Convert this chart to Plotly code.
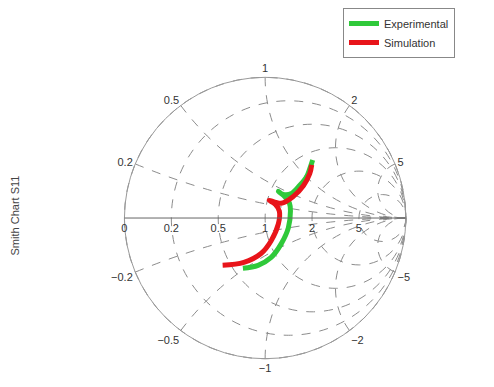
import numpy as np
import plotly.graph_objects as go

exp_re = [-0.158, -0.050, 0.043, 0.115, 0.165, 0.180, 0.173, 0.137, 0.094, 0.129, 0.187, 0.245, 0.295, 0.317, 0.338]
exp_im = [-0.357, -0.336, -0.280, -0.182, -0.070, 0.049, 0.105, 0.154, 0.189, 0.168, 0.175, 0.231, 0.294, 0.350, 0.413]

sim_re = [-0.302, -0.151, -0.029, 0.043, 0.094, 0.101, 0.072, 0.029, 0.115, 0.201, 0.273, 0.317, 0.331]
sim_im = [-0.336, -0.315, -0.252, -0.161, -0.042, 0.049, 0.098, 0.126, 0.105, 0.154, 0.231, 0.315, 0.378]

real_ticks = [0, 0.2, 0.5, 1, 2, 5]
imag_ticks = [-5, -2, -1, -0.5, -0.2, 0.2, 0.5, 1, 2, 5]


def to_z(re, im):
    g = np.array(re) + 1j * np.array(im)
    z = (1 + g) / (1 - g)
    return z.real, z.imag


zr_e, zi_e = to_z(exp_re, exp_im)
zr_s, zi_s = to_z(sim_re, sim_im)

W, H = 494, 387
OFF = 8  # page body margin in the browser


def px(x):
    return (x - OFF) / W


def py(y):
    return 1 - (y - OFF) / H


fig = go.Figure()
fig.add_trace(go.Scattersmith(real=zr_e, imag=zi_e, mode="lines", name="Experimental",
                              line=dict(color="#2fc93a", width=5, shape="spline")))
fig.add_trace(go.Scattersmith(real=zr_s, imag=zi_s, mode="lines", name="Simulation",
                              line=dict(color="#e8141a", width=5, shape="spline")))

tick_font = dict(family="Liberation Sans, Arial, sans-serif", size=11, color="#333333")

fig.update_layout(
    width=W, height=H,
    margin=dict(l=0, r=0, t=0, b=0),
    paper_bgcolor="white",
    smith=dict(
        domain=dict(x=[0.235, 0.806], y=[0.094, 0.823]),
        bgcolor="white",
        realaxis=dict(tickvals=real_ticks, gridcolor="#8c8c8c", griddash="dash", gridwidth=1,
                      linecolor="#666666", linewidth=1, tickfont=tick_font, side="bottom",
                      ticks="", showline=True, tickangle=0),
        imaginaryaxis=dict(tickvals=imag_ticks, gridcolor="#8c8c8c", griddash="dash", gridwidth=1,
                           linecolor="#9a9a9a", linewidth=1, tickfont=tick_font, ticks=""),
    ),
    showlegend=True,
    legend=dict(x=px(343), y=py(7), xanchor="left", yanchor="top",
                bgcolor="white", bordercolor="#888888", borderwidth=1,
                font=dict(family="Liberation Sans, Arial, sans-serif", size=11, color="#333333"),
                tracegroupgap=0, itemwidth=30),
    shapes=[dict(type="rect", xref="paper", yref="paper",
                 x0=px(407.5), x1=px(440), y0=py(230), y1=py(205),
                 fillcolor="white", line=dict(width=0), layer="above")],
    annotations=[dict(text="Smith Chart S11", textangle=-90, x=px(15), y=py(215),
                      xanchor="center", yanchor="middle",
                      xref="paper", yref="paper", showarrow=False,
                      font=dict(family="Liberation Sans, Arial, sans-serif", size=11, color="#444444"))],
)

fig.write_html("out.html")
